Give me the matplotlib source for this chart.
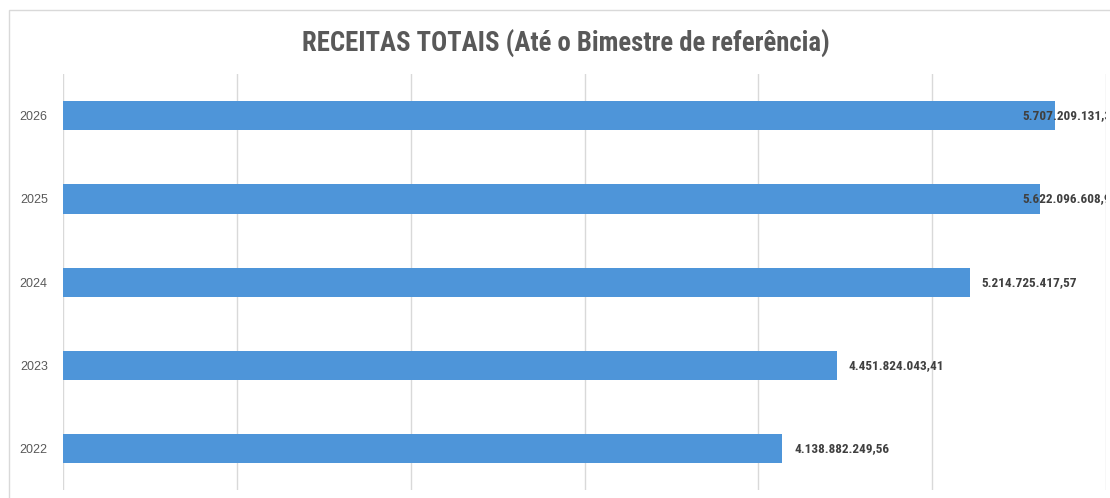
import matplotlib.pyplot as plt
from matplotlib.patches import Rectangle

anos = ['2022', '2023', '2024', '2025', '2026']
receitas = [4138882249.56, 4451824043.41, 5214725417.57, 5622096608.90, 5707209131.35]
rotulos = ['4.138.882.249,56', '4.451.824.043,41', '5.214.725.417,57',
           '5.622.096.608,90', '5.707.209.131,35']

narrow = ['Roboto Condensed', 'DejaVu Sans']

fig = plt.figure(figsize=(11.1, 4.98), dpi=100)
ax = fig.add_axes([0.0568, 0.016, 0.9396, 0.835])

# moldura do grafico
fig.patches.append(Rectangle((9 / 1110, -0.1), 1.2, 1 - 10 / 498 + 0.1, transform=fig.transFigure,
                             fill=False, edgecolor='#d9d9d9', linewidth=1))

ypos = range(len(anos))
ax.barh(ypos, receitas, height=0.35, color='#4E95D9', zorder=3)

ax.set_xlim(0, 6e9)
ax.set_ylim(-0.5, len(anos) - 0.5)
ax.set_xticks([i * 1e9 for i in range(7)])
ax.set_xticklabels([])
ax.tick_params(axis='x', length=0)
ax.tick_params(axis='y', length=0, pad=11)
ax.set_yticks(list(ypos))
ax.set_yticklabels(anos, fontsize=9, color='#595959', family=['Liberation Sans', 'DejaVu Sans'])
ax.grid(axis='x', color='#d9d9d9', linewidth=1, zorder=0)
for s in ax.spines.values():
    s.set_visible(False)

# rotulos que nao cabem ficam empurrados para dentro (como no Excel)
for y, v, t in zip(ypos, receitas, rotulos):
    ax.annotate(t, (min(v, 5.45e9), y), xytext=(12, 0), textcoords='offset pixels',
                va='center', ha='left', fontsize=9.5, fontweight='bold', color='#404040',
                family=narrow, annotation_clip=False, clip_on=True, zorder=4)

fig.text(0.51, 0.912, 'RECEITAS TOTAIS (Até o Bimestre de referência)', ha='center', va='center',
         fontsize=19.3, fontweight='bold', color='#595959', family=narrow)

fig.savefig('out.png', dpi=100)
